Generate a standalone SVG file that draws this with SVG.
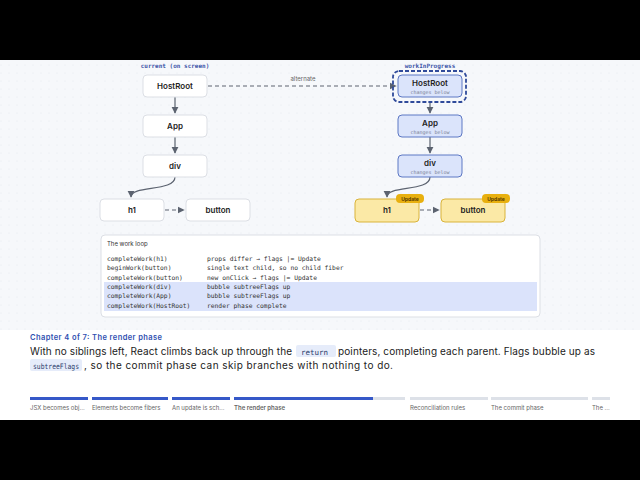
<svg xmlns="http://www.w3.org/2000/svg" width="640" height="480" viewBox="0 0 640 480">
<defs>
<pattern id="dots" width="8" height="8" patternUnits="userSpaceOnUse"><rect width="8" height="8" fill="#f6f8fb"/><circle cx="1" cy="1" r="0.5" fill="#e3e7ee"/></pattern>
<marker id="ah" viewBox="0 0 10 10" refX="9" refY="5" markerWidth="6" markerHeight="6" orient="auto"><path d="M0,0 L10,5 L0,10 z" fill="#5c6370"/></marker>
<style>
.n{fill:#fff;stroke:#dcdfe5;stroke-width:1}
.w{fill:#dbe4fb;stroke:#5d78c4;stroke-width:1}
.y{fill:#fbe9a6;stroke:#d9b33a;stroke-width:1}
.t{font-family:Inter,"Liberation Sans",sans-serif;font-size:8px;font-weight:600;fill:#222;text-anchor:middle}
.s{font-family:"DejaVu Sans Mono",monospace;font-size:5px;fill:#7a8196;text-anchor:middle}
.c{stroke:#5c6370;stroke-width:1.2;fill:none}
.m{font-family:"DejaVu Sans Mono",monospace;font-size:6.3px;fill:#333}
.b{font-family:Inter,"Liberation Sans",sans-serif;font-size:5px;font-weight:700;fill:#5a3d00;text-anchor:middle}
.p{font-family:Inter,"Liberation Sans",sans-serif;font-size:6px;fill:#666}
.para{font-family:Inter,"Liberation Sans",sans-serif;font-size:10px;fill:#222}
.code{font-family:"DejaVu Sans Mono",monospace;font-size:7.5px;fill:#2a3a6a}
</style>
</defs>
<rect width="640" height="480" fill="#000"/>
<rect x="0" y="60" width="640" height="270" fill="url(#dots)"/>
<rect x="0" y="330" width="640" height="90" fill="#fff"/>
<text x="175" y="68" font-family="DejaVu Sans Mono,monospace" font-size="6px" font-weight="bold" fill="#3d55a8" text-anchor="middle">current (on screen)</text>
<text x="430" y="68" font-family="DejaVu Sans Mono,monospace" font-size="6px" font-weight="bold" fill="#3d55a8" text-anchor="middle">workInProgress</text>
<g id="connectors">
<path class="c" d="M175,97 V113" marker-end="url(#ah)"/>
<path class="c" d="M175,137 V153" marker-end="url(#ah)"/>
<path class="c" d="M175,177 C175,192 131,185 131,197" marker-end="url(#ah)"/>
<path class="c" stroke-dasharray="4,3" d="M165,210 H184" marker-end="url(#ah)"/>
<path class="c" stroke-dasharray="4,3" d="M208,86 H396" marker-end="url(#ah)"/>
<text x="303" y="81" font-family="Inter,Liberation Sans,sans-serif" font-size="6px" fill="#666" text-anchor="middle">alternate</text>
<path class="c" d="M430,102 V113" marker-end="url(#ah)"/>
<path class="c" d="M430,137 V153" marker-end="url(#ah)"/>
<path class="c" d="M430,177 C430,192 387,185 387,197" marker-end="url(#ah)"/>
<path class="c" stroke-dasharray="4,3" d="M420,210 H439" marker-end="url(#ah)"/>
</g>
<g id="c-hostroot"><rect class="n" x="143" y="75" width="64" height="22" rx="4"/><text class="t" x="175" y="89">HostRoot</text></g>
<g id="c-app"><rect class="n" x="143" y="115" width="64" height="22" rx="4"/><text class="t" x="175" y="129">App</text></g>
<g id="c-div"><rect class="n" x="143" y="155" width="64" height="22" rx="4"/><text class="t" x="175" y="169">div</text></g>
<g id="c-h1"><rect class="n" x="100" y="199" width="64" height="22" rx="4"/><text class="t" x="132" y="213">h1</text></g>
<g id="c-button"><rect class="n" x="186" y="199" width="64" height="22" rx="4"/><text class="t" x="218" y="213">button</text></g>
<g id="w-hostroot"><rect x="393" y="71" width="73" height="31" rx="6" fill="none" stroke="#2f4a9a" stroke-width="1.8" stroke-dasharray="4,2"/><rect class="w" x="398" y="75" width="64" height="22" rx="4"/><text class="t" x="430" y="86">HostRoot</text><text class="s" x="430" y="94">changes below</text></g>
<g id="w-app"><rect class="w" x="398" y="115" width="64" height="22" rx="4"/><text class="t" x="430" y="126">App</text><text class="s" x="430" y="134">changes below</text></g>
<g id="w-div"><rect class="w" x="398" y="155" width="64" height="22" rx="4"/><text class="t" x="430" y="166">div</text><text class="s" x="430" y="174">changes below</text></g>
<g id="w-h1"><rect class="y" x="355" y="199" width="64" height="23" rx="4"/><text class="t" x="387" y="213">h1</text><rect x="396" y="194" width="28" height="9" rx="4" fill="#e8b00f"/><text class="b" x="410" y="200.5">Update</text></g>
<g id="w-button"><rect class="y" x="441" y="199" width="64" height="23" rx="4"/><text class="t" x="473" y="213">button</text><rect x="482" y="194" width="28" height="9" rx="4" fill="#e8b00f"/><text class="b" x="496" y="200.5">Update</text></g>
<g id="workloop">
<rect x="101" y="235" width="439" height="82" rx="4" fill="#fff" stroke="#dcdfe5"/>
<text x="107" y="246" font-family="Inter,Liberation Sans,sans-serif" font-size="6px" fill="#333">The work loop</text>
<rect x="104" y="282" width="433" height="29" fill="#dbe3fb"/>
<text class="m" x="107" y="261">completeWork(h1)</text><text class="m" x="207" y="261">props differ → flags |= Update</text>
<text class="m" x="107" y="270">beginWork(button)</text><text class="m" x="207" y="270">single text child, so no child fiber</text>
<text class="m" x="107" y="280">completeWork(button)</text><text class="m" x="207" y="280">new onClick → flags |= Update</text>
<text class="m" x="107" y="289">completeWork(div)</text><text class="m" x="207" y="289">bubble subtreeFlags up</text>
<text class="m" x="107" y="298">completeWork(App)</text><text class="m" x="207" y="298">bubble subtreeFlags up</text>
<text class="m" x="107" y="308">completeWork(HostRoot)</text><text class="m" x="207" y="308">render phase complete</text>
</g>
<text x="30" y="340" font-family="Inter,Liberation Sans,sans-serif" font-size="7.5px" font-weight="600" fill="#2f4fb0" textLength="132">Chapter 4 of 7: The render phase</text>
<rect x="296" y="345" width="40" height="12" rx="2" fill="#e6ecfa"/>
<rect x="30" y="359" width="52" height="12" rx="2" fill="#e6ecfa"/>
<text class="para" x="30" y="355" textLength="262">With no siblings left, React climbs back up through the</text>
<text class="code" x="301" y="354.5">return</text>
<text class="para" x="338" y="355" textLength="257">pointers, completing each parent. Flags bubble up as</text>
<text class="code" x="33" y="368.5" textLength="46" lengthAdjust="spacingAndGlyphs">subtreeFlags</text>
<text class="para" x="84" y="369" textLength="309">, so the commit phase can skip branches with nothing to do.</text>
<g id="progress">
<rect x="30" y="397" width="58" height="3" fill="#3558c8"/>
<rect x="92" y="397" width="76" height="3" fill="#3558c8"/>
<rect x="172" y="397" width="58" height="3" fill="#3558c8"/>
<rect x="234" y="397" width="171" height="3" fill="#dde1e8"/>
<rect x="234" y="397" width="139" height="3" fill="#3558c8"/>
<rect x="410" y="397" width="78" height="3" fill="#dde1e8"/>
<rect x="491" y="397" width="97" height="3" fill="#dde1e8"/>
<rect x="592" y="397" width="18" height="3" fill="#dde1e8"/>
<text class="p" x="30" y="410">JSX becomes obj...</text>
<text class="p" x="92" y="410">Elements become fibers</text>
<text class="p" x="172" y="410">An update is sch...</text>
<text class="p" x="234" y="410" fill="#222" font-weight="600">The render phase</text>
<text class="p" x="410" y="410">Reconciliation rules</text>
<text class="p" x="491" y="410">The commit phase</text>
<text class="p" x="592" y="410">The ...</text>
</g>
</svg>
